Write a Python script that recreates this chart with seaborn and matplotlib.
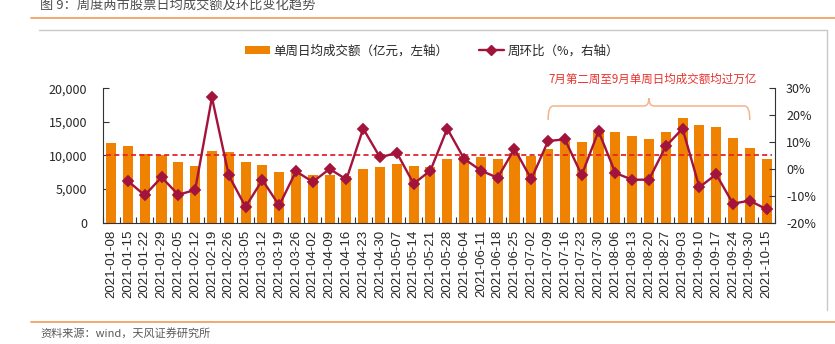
import numpy as np
import pandas as pd
import matplotlib
matplotlib.use("Agg")
import matplotlib.pyplot as plt
import seaborn as sns
from matplotlib.lines import Line2D
from matplotlib.patches import Patch, PathPatch
from matplotlib.path import Path
import matplotlib.transforms as mtransforms
from matplotlib.ticker import FuncFormatter, FixedLocator

# ---------------- data ----------------
dates = ["2021-01-08", "2021-01-15", "2021-01-22", "2021-01-29", "2021-02-05",
         "2021-02-12", "2021-02-19", "2021-02-26", "2021-03-05", "2021-03-12",
         "2021-03-19", "2021-03-26", "2021-04-02", "2021-04-09", "2021-04-16",
         "2021-04-23", "2021-04-30", "2021-05-07", "2021-05-14", "2021-05-21",
         "2021-05-28", "2021-06-04", "2021-06-11", "2021-06-18", "2021-06-25",
         "2021-07-02", "2021-07-09", "2021-07-16", "2021-07-23", "2021-07-30",
         "2021-08-06", "2021-08-13", "2021-08-20", "2021-08-27", "2021-09-03",
         "2021-09-10", "2021-09-17", "2021-09-24", "2021-09-30", "2021-10-15"]

volume = [11850, 11400, 10250, 10100, 9100, 8400, 10700, 10500, 9000, 8650,
          7600, 7400, 7150, 7150, 6900, 8000, 8250, 8750, 8400, 8250,
          9550, 9950, 9850, 9550, 10400, 9950, 11000, 12150, 11950, 13550,
          13450, 12950, 12450, 13550, 15600, 14600, 14250, 12550, 11100, 9500]

wow_pct = [np.nan, -4.5, -9.8, -3.1, -9.6, -7.8, 26.6, -2.4, -14.1, -4.1,
           -13.6, -0.9, -4.8, 0.0, -3.9, 15.0, 4.3, 6.0, -5.5, -0.6,
           15.0, 3.8, -0.6, -3.3, 7.5, -3.8, 10.4, 11.0, -2.3, 14.1,
           -1.5, -4.0, -4.0, 8.4, 15.0, -6.8, -2.0, -12.9, -11.8, -15.0]

threshold = 10000
brace_start, brace_end = "2021-07-09", "2021-09-30"

title_text = "图 9：周度两市股票日均成交额及环比变化趋势"
bar_label = "单周日均成交额（亿元，左轴）"
line_label = "周环比（%，右轴）"
annot_text = "7月第二周至9月单周日均成交额均过万亿"
source_text = "资料来源：wind，天风证券研究所"

left_ticks = [0, 5000, 10000, 15000, 20000]
right_ticks = [-20, -10, 0, 10, 20, 30]

# ---------------- style ----------------
bar_color = "#EF8200"
line_color = "#A3143C"
dash_color = "#E3262B"
annot_color = "#E8322D"
brace_color = "#F5B48A"
rule_orange = "#F29A50"
frame_gray = "#C8C8C8"
text_dark = "#262626"
text_gray = "#595959"

sns.set_theme(style="white")
plt.rcParams["font.family"] = ["Noto Sans CJK SC", "DejaVu Sans"]
plt.rcParams["axes.unicode_minus"] = False

W, H = 835, 344
fig = plt.figure(figsize=(W / 100, H / 100), dpi=100)


def fx(px):
    return px / W


def fy(py):
    return 1 - py / H


ax_l, ax_r, ax_t, ax_b = 102.7, 775.0, 88.3, 222.7
ax = fig.add_axes([fx(ax_l), fy(ax_b), fx(ax_r) - fx(ax_l), fy(ax_t) - fy(ax_b)])

df = pd.DataFrame({"date": dates, "volume": volume, "pct": wow_pct})
n = len(dates)

sns.barplot(data=df, x="date", y="volume", order=dates, color=bar_color,
            saturation=1, width=0.6, errorbar=None, ax=ax, zorder=2,
            edgecolor="none")

# threshold dashed line
ax.hlines(threshold, -0.3, n - 1 + 0.3, colors=dash_color,
          linestyles=(0, (2.8, 1.8)), linewidth=1.3, zorder=3)

ax.set_ylim(left_ticks[0], left_ticks[-1])
ax.yaxis.set_major_locator(FixedLocator(left_ticks))
ax.yaxis.set_major_formatter(FuncFormatter(lambda v, p: f"{v:,.0f}"))
ax.set_xlabel("")
ax.set_ylabel("")

ax2 = ax.twinx()
sns.pointplot(data=df, x="date", y="pct", order=dates, color=line_color,
              markers="D", markersize=5.5, linewidth=1.7, errorbar=None, ax=ax2)
ax2.set_ylim(right_ticks[0], right_ticks[-1])
ax2.yaxis.set_major_locator(FixedLocator(right_ticks))
ax2.yaxis.set_major_formatter(FuncFormatter(lambda v, p: f"{v:.0f}%"))
ax2.set_xlabel("")
ax2.set_ylabel("")
ax.set_xlim(-0.5, n - 0.5)

# spines
for s in ["top", "right"]:
    ax.spines[s].set_visible(False)
for s in ["top", "left", "bottom"]:
    ax2.spines[s].set_visible(False)
for s in ["left", "bottom"]:
    ax.spines[s].set_color("#333333")
    ax.spines[s].set_linewidth(0.8)
ax2.spines["right"].set_color("#333333")
ax2.spines["right"].set_linewidth(0.8)

# ticks
ax.set_xticks(range(n))
ax.set_xticklabels(dates, rotation=90, fontsize=9.5, color=text_dark,
                   fontfamily=["Liberation Sans", "DejaVu Sans"])
ax.tick_params(axis="x", which="major", length=0, pad=5, bottom=True)
ax.set_xticks(np.arange(n + 1) - 0.5, minor=True)
ax.tick_params(axis="x", which="minor", direction="in", length=4,
               width=0.8, color="#333333", bottom=True)
ax.tick_params(axis="y", direction="in", length=4.5, width=0.8,
               color="#333333", pad=11, labelsize=9, labelcolor=text_dark,
               left=True)
ax2.tick_params(axis="y", direction="in", length=4.5, width=0.8,
                color="#333333", pad=8, labelsize=9, labelcolor=text_dark,
                right=True)
ax.grid(False)
ax2.grid(False)

# legend
handles = [Patch(facecolor=bar_color, edgecolor="none"),
           Line2D([], [], color=line_color, marker="D", markersize=5, lw=1.7)]
fig.legend(handles, [bar_label, line_label], loc="center",
           bbox_to_anchor=(fx(432), fy(51)), ncol=2, frameon=False,
           fontsize=9, handlelength=2.0, handletextpad=0.3,
           columnspacing=2.4, handleheight=0.6)

# annotation text and brace
fig.text(fx(653), fy(79), annot_text, ha="center", va="center",
         fontsize=8.3, color=annot_color)
x0 = dates.index(brace_start)
x1 = dates.index(brace_end)
xc = (x0 + x1) / 2
trans = mtransforms.blended_transform_factory(ax.transData, fig.transFigure)
y_end, y_h, y_top = fy(120), fy(106), fy(98)
r = 0.3
verts = [(x0, y_end), (x0, y_h), (x0 + r, y_h),
         (xc - r, y_h), (xc, y_h), (xc, y_top),
         (xc, y_h), (xc + r, y_h),
         (x1 - r, y_h), (x1, y_h), (x1, y_end)]
codes = [Path.MOVETO, Path.CURVE3, Path.CURVE3,
         Path.LINETO, Path.CURVE3, Path.CURVE3,
         Path.CURVE3, Path.CURVE3,
         Path.LINETO, Path.CURVE3, Path.CURVE3]
brace = PathPatch(Path(verts, codes), transform=trans, facecolor="none",
                  edgecolor=brace_color, lw=1.1, clip_on=False)
fig.add_artist(brace)

# frame and rules
fig.add_artist(Line2D([fx(31), 1], [fy(18.3)] * 2, color=rule_orange, lw=1.2))
fig.add_artist(Line2D([fx(31), 1], [fy(321.5)] * 2, color=rule_orange, lw=1.2))
fig.add_artist(Line2D([fx(39), fx(826.5)], [fy(29.5)] * 2, color=frame_gray, lw=1))
fig.add_artist(Line2D([fx(826.5)] * 2, [fy(29.5), fy(310)], color=frame_gray, lw=1))

fig.text(fx(40), fy(6), title_text, ha="left", va="center", fontsize=9.5,
         color="#4D4D4D")
fig.text(fx(40), fy(333), source_text, ha="left", va="center", fontsize=8,
         color=text_gray)

fig.savefig("out.png", dpi=100)
